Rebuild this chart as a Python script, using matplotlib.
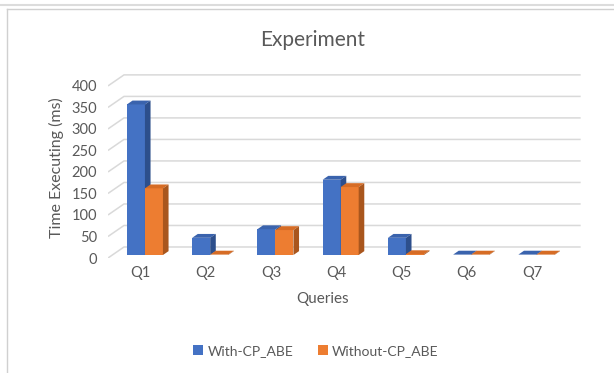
import matplotlib
matplotlib.use("Agg")
import matplotlib.pyplot as plt
from matplotlib.patches import Polygon, Patch
from matplotlib.lines import Line2D

queries = ["Q1", "Q2", "Q3", "Q4", "Q5", "Q6", "Q7"]
with_cp_abe = [350, 40, 60, 175, 40, 1, 1]
without_cp_abe = [155, 1, 58, 158, 2, 1, 1]
yticks = [0, 50, 100, 150, 200, 250, 300, 350, 400]

plt.rcParams['font.family'] = ['Lato', 'DejaVu Sans']
TXT = '#595959'

BLUE = ('#4472C4', '#3a63ad', '#2d4f8c')     # front, top, side
ORANGE = ('#ED7D31', '#d66c25', '#a9561d')

W = 0.276                  # bar width (category units)
DX, DY = 0.245, 25.6       # depth of the floor/back wall
F = 0.27                   # depth position of the bar fronts
BDX, BDY = 0.086, 9.0      # depth of a bar


def draw_bars(ax, xs, vals, colors):
    front, top, side = colors
    base = F * DY
    xs = [x + F * DX for x in xs]
    ax.bar(xs, vals, width=W, bottom=base, align='edge', color=front,
           linewidth=0, zorder=3)
    for x, v in zip(xs, vals):
        t = base + v
        ax.add_patch(Polygon([(x, t), (x + BDX, t + BDY), (x + W + BDX, t + BDY), (x + W, t)],
                             closed=True, facecolor=top, edgecolor='none', zorder=3))
        ax.add_patch(Polygon([(x + W, base), (x + W + BDX, base + BDY),
                              (x + W + BDX, t + BDY), (x + W, t)],
                             closed=True, facecolor=side, edgecolor='none', zorder=3))


fig = plt.figure(figsize=(6.14, 3.73), dpi=100)
ax = fig.add_axes([108 / 614, (373 - 258) / 373, 473 / 614, 185 / 373])
ax.set_xlim(-0.5, 6.75)
ax.set_ylim(0, 430)

# gridlines running along the side wall and then the back wall
n = len(queries)
for v in yticks:
    ax.plot([-0.5, -0.5 + DX, n - 0.5 + DX], [v, v + DY, v + DY],
            color='#d9d9d9', linewidth=1.1, zorder=1, solid_capstyle='butt')

idx = list(range(n))
draw_bars(ax, [i - W for i in idx], with_cp_abe, BLUE)
draw_bars(ax, idx, without_cp_abe, ORANGE)

for s in ax.spines.values():
    s.set_visible(False)
ax.set_yticks(yticks)
ax.set_xticks(idx)
ax.set_xticklabels(queries)
ax.tick_params(axis='both', length=0, labelsize=10.5, labelcolor=TXT)
ax.tick_params(axis='y', pad=8)
ax.tick_params(axis='x', pad=6)

fig.text(313 / 614, 1 - 40 / 373, 'Experiment', fontsize=15, color=TXT,
         ha='center', va='center')
fig.text(56 / 614, 1 - 168 / 373, 'Time Executing (ms)', fontsize=11.5, color=TXT,
         rotation=90, ha='center', va='center')
fig.text(323 / 614, 1 - 299 / 373, 'Queries', fontsize=11, color=TXT,
         ha='center', va='center')

handles = [Patch(facecolor=BLUE[0]), Patch(facecolor=ORANGE[0])]
fig.legend(handles, ['With-CP_ABE', 'Without-CP_ABE'], loc='center',
           bbox_to_anchor=(316 / 614, 1 - 351 / 373), ncol=2, frameon=False,
           fontsize=10, labelcolor=TXT, handlelength=0.7, handleheight=0.7,
           handletextpad=0.3, columnspacing=1.8)

# chart frame and the sheet grid around it
H = 373
fig.add_artist(Line2D([0, 1], [1 - 5 / H, 1 - 5 / H], color='#dcdcdc', linewidth=1.5))
fig.add_artist(Line2D([7 / 614, 1], [1 - 9 / H, 1 - 9 / H], color='#d0d0d0', linewidth=1))
fig.add_artist(Line2D([7 / 614, 7 / 614], [0, 1 - 9 / H], color='#d0d0d0', linewidth=1))

fig.savefig('out.png', dpi=100)
